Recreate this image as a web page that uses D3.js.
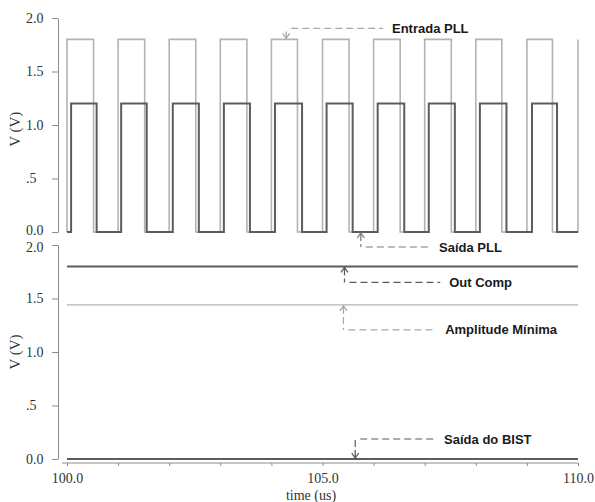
<!DOCTYPE html>
<html>
<head>
<meta charset="utf-8">
<script src="https://cdn.jsdelivr.net/npm/d3@7"></script>
<style>
  body { margin: 0; background: #fff; }
  svg { display: block; }
  .axis path, .axis line { stroke: #8c8c8c; }
  .axis text { font-family: "Liberation Serif", serif; font-size: 14px; fill: #333; }
  .note { font-family: "Liberation Sans", Arial, sans-serif; font-weight: bold; font-size: 13px; fill: #1a1a1a; }
</style>
</head>
<body>
<svg id="chart" width="595" height="502"></svg>
<script>
// time axis (us)
const timeDomain = [100, 110];
const timeTicks = [100, 101, 102, 103, 104, 105, 106, 107, 108, 109, 110];
const timeTickLabels = ["100.0", "", "", "", "", "105.0", "", "", "", "", "110.0"];

// voltage axis (V)
const voltTicks = [0, 0.5, 1.0, 1.5, 2.0];
const voltTickLabels = ["0.0", ".5", "1.0", "1.5", "2.0"];

// Entrada PLL: edges (us) and high level (V)
const entradaRise = [100.0, 101.0, 102.0, 103.0, 104.0, 105.0, 106.0, 107.0, 108.0, 109.0, 110.0];
const entradaFall = [100.52, 101.52, 102.52, 103.52, 104.51, 105.52, 106.52, 107.52, 108.51, 109.5];
const entradaHigh = 1.8;

// Saída PLL
const saidaRise = [100.08, 101.06, 102.07, 103.07, 104.07, 105.08, 106.08, 107.08, 108.08, 109.1];
const saidaFall = [100.58, 101.56, 102.58, 103.58, 104.6, 105.59, 106.6, 107.59, 108.6, 109.59];
const saidaHigh = 1.2;

// lower panel levels
const outCompLevel = 1.8;
const amplitudeMinLevel = 1.44;
const bistLevel = 0.0;

// annotations: label, arrow tip (time, volt), panel, arrow direction, label start time
const noteLabels = ["Entrada PLL", "Saída PLL", "Out Comp", "Amplitude Mínima", "Saída do BIST"];
const noteTipTime = [104.29, 105.75, 105.43, 105.41, 105.64];
const noteTipVolt = [1.8, 0.0, 1.8, 1.44, 0.0];
const notePanel = ["top", "top", "bottom", "bottom", "bottom"];
const noteDir = ["down", "up", "up", "up", "down"];
const noteTextTime = [106.36, 107.28, 107.48, 107.4, 107.38];
const noteDrop = [10, 14, 15, 24, 19];
const noteShade = ["light", "mid", "dark", "light", "dark"];

const lightColor = "#b3b3b3";
const darkColor = "#5c5c5c";
const shadeColor = { light: "#a8a8a8", mid: "#7a7a7a", dark: "#5a5a5a" };

const svg = d3.select("#chart");

const x = d3.scaleLinear().domain(timeDomain).range([67, 578]);
const yTop = d3.scaleLinear().domain([0, 2]).range([232, 18]);
const yBot = d3.scaleLinear().domain([0, 2]).range([459, 245]);
const panels = { top: yTop, bottom: yBot };

function stepWave(rise, fall, high) {
  const pts = [[timeDomain[0], 0]];
  const edges = rise.map(t => ({ t: t, up: true }))
    .concat(fall.map(t => ({ t: t, up: false })))
    .sort((a, b) => a.t - b.t);
  let level = 0;
  edges.forEach(e => {
    pts.push([e.t, level]);
    level = e.up ? high : 0;
    pts.push([e.t, level]);
  });
  if (pts[pts.length - 1][0] < timeDomain[1]) pts.push([timeDomain[1], level]);
  return pts;
}

// nudge = shift (px) for the bottom-most / top-most label where the panels meet
function drawYAxis(y, labelY, nudge) {
  const g = svg.append("g")
    .attr("class", "axis")
    .attr("transform", "translate(58,0)")
    .call(d3.axisLeft(y)
      .tickValues(voltTicks)
      .tickSize(6)
      .tickSizeOuter(0)
      .tickFormat((d, i) => voltTickLabels[i]));
  g.selectAll(".tick text")
    .attr("x", -32)
    .attr("text-anchor", "start")
    .attr("y", d => (d === nudge.value ? nudge.dy : 0));

  svg.append("text")
    .attr("transform", "translate(20," + labelY + ") rotate(-90)")
    .attr("text-anchor", "middle")
    .style("font-family", "Liberation Serif, serif")
    .style("font-size", "15px")
    .style("fill", "#333")
    .text("V (V)");
}

drawYAxis(yTop, yTop(0.96), { value: 0, dy: -2 });
drawYAxis(yBot, yBot(1.0), { value: 2, dy: 2 });

// x axis under the lower panel
const xg = svg.append("g")
  .attr("class", "axis")
  .attr("transform", "translate(0,463)")
  .call(d3.axisBottom(x)
    .tickValues(timeTicks)
    .tickSize(3)
    .tickSizeOuter(0)
    .tickPadding(7)
    .tickFormat((d, i) => timeTickLabels[i]));
xg.select(".domain").attr("d", "M62,0H578");

svg.append("text")
  .attr("x", 311)
  .attr("y", 500)
  .attr("text-anchor", "middle")
  .style("font-family", "Liberation Serif, serif")
  .style("font-size", "14px")
  .style("fill", "#333")
  .text("time (us)");

// waveforms, top panel
const lineTop = d3.line().x(d => x(d[0])).y(d => yTop(d[1]));
const lineBot = d3.line().x(d => x(d[0])).y(d => yBot(d[1]));

svg.append("path")
  .attr("d", lineTop(stepWave(entradaRise, entradaFall, entradaHigh)))
  .attr("fill", "none")
  .attr("stroke", lightColor)
  .attr("stroke-width", 1.6);

svg.append("path")
  .attr("d", lineTop(stepWave(saidaRise, saidaFall, saidaHigh)))
  .attr("fill", "none")
  .attr("stroke", darkColor)
  .attr("stroke-width", 2);

// lower panel levels
svg.append("path")
  .attr("d", lineBot([[timeDomain[0], amplitudeMinLevel], [timeDomain[1], amplitudeMinLevel]]))
  .attr("stroke", lightColor)
  .attr("stroke-width", 1.4);

[outCompLevel, bistLevel].forEach(v => {
  svg.append("path")
    .attr("d", lineBot([[timeDomain[0], v], [timeDomain[1], v]]))
    .attr("stroke", darkColor)
    .attr("stroke-width", 2);
});

// annotations
noteLabels.forEach((label, i) => {
  const y = panels[notePanel[i]];
  const tx = x(noteTipTime[i]);
  const ty = y(noteTipVolt[i]) + (noteDir[i] === "up" ? 1 : -1);
  const s = noteDir[i] === "up" ? 1 : -1;
  const dashY = ty + s * noteDrop[i];
  const textX = x(noteTextTime[i]);
  const col = shadeColor[noteShade[i]];
  const g = svg.append("g");

  // arrow head and short stem
  g.append("path")
    .attr("d", "M" + (tx - 3.5) + "," + (ty + s * 5) + "L" + tx + "," + ty + "L" + (tx + 3.5) + "," + (ty + s * 5))
    .attr("fill", "none")
    .attr("stroke", col)
    .attr("stroke-width", 1.3);
  const stemEnd = ty + s * Math.min(8, noteDrop[i] - 3);
  g.append("line")
    .attr("x1", tx).attr("y1", ty)
    .attr("x2", tx).attr("y2", stemEnd)
    .attr("stroke", col)
    .attr("stroke-width", 1.3);

  // dashed leader
  g.append("path")
    .attr("d", "M" + tx + "," + (stemEnd + s * 3) + "L" + tx + "," + dashY + "M" + (tx + 5) + "," + dashY + "L" + (textX - 9) + "," + dashY)
    .attr("fill", "none")
    .attr("stroke", col)
    .attr("stroke-width", 1.2)
    .attr("stroke-dasharray", "7,4");

  g.append("text")
    .attr("class", "note")
    .attr("x", textX)
    .attr("y", dashY)
    .attr("dy", "0.35em")
    .text(label);
});
</script>
</body>
</html>
